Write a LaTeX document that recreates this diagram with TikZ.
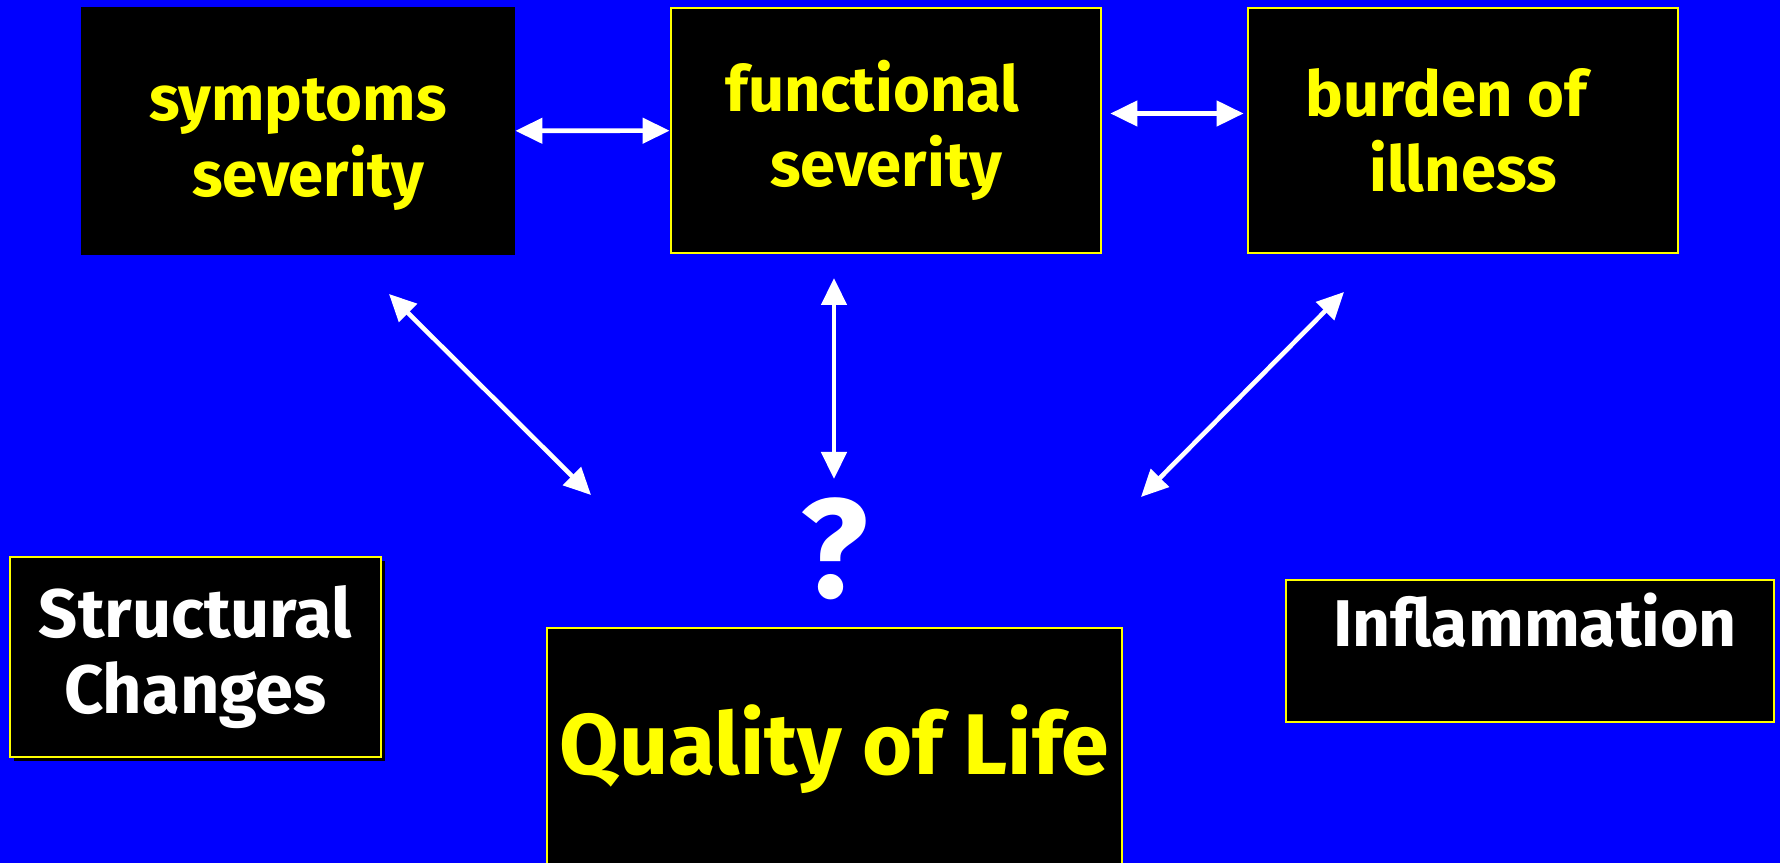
\documentclass[tikz,border=0pt]{standalone}
\usepackage{fontspec}
\setmainfont{Fira Sans}
\usetikzlibrary{arrows.meta,shadows}
\definecolor{slideblue}{RGB}{0,0,255}
\definecolor{slideyellow}{RGB}{255,255,0}
\tikzset{
  box/.style={rectangle,fill=black,draw=slideyellow,line width=0.8pt,align=center,inner sep=0pt,
    font=\bfseries\fontsize{18}{21.5}\selectfont},
  link/.style={white,line width=1.3pt,
    {Triangle[length=0.27cm,width=0.25cm]}-{Triangle[length=0.27cm,width=0.25cm]}}
}
\begin{document}
\begin{tikzpicture}
\fill[slideblue] (0,0) rectangle (17.8,8.63);
\useasboundingbox (0,0) rectangle (17.8,8.63);
\node[box,draw=black,text=slideyellow,minimum width=4.32cm,minimum height=2.46cm,text height=41pt] (symp) at (2.98,7.32) {symptoms\\\hspace*{0.2cm}severity};
\node[box,text=slideyellow,minimum width=4.30cm,minimum height=2.45cm] (func) at (8.86,7.325) {functional\hspace{0.27cm}\mbox{}\\severity};
\node[box,text=slideyellow,minimum width=4.30cm,minimum height=2.45cm] (burden) at (14.63,7.325) {burden of\hspace{0.33cm}\mbox{}\\illness};
\node[box,text=white,minimum width=3.71cm,minimum height=2.0cm,font=\bfseries\fontsize{19.5}{21.5}\selectfont,
  drop shadow={shadow xshift=0.04cm,shadow yshift=-0.04cm,fill=black,opacity=1}] (struct) at (1.955,2.06) {Structural\\Changes};
\node[box,text=slideyellow,minimum width=5.75cm,minimum height=2.42cm,font=\bfseries\fontsize{24.5}{30}\selectfont] (qol) at (8.345,1.14) {Quality of Life};
\node[box,text=white,minimum width=4.88cm,minimum height=1.42cm,font=\bfseries\fontsize{18.8}{21.5}\selectfont,
  text height=17pt,text depth=19.5pt] (infl) at (15.30,2.12) {\hspace*{0.1cm}Inflammation};
\node[text=white,font=\bfseries\fontsize{40}{40}\selectfont] (q) at (8.34,3.14) {?};
\coordinate (symp-end) at (3.89,5.69);
\coordinate (qol-left) at (5.91,3.68);
\coordinate (func-end) at (8.34,5.85);
\coordinate (qol-top) at (8.34,3.84);
\coordinate (burden-end) at (13.44,5.71);
\coordinate (qol-right) at (11.41,3.66);
\path[link]
  (symp) edge (func)
  ([yshift=1.7mm]func.east) edge[shorten <=0.08cm,shorten >=0.03cm] ([yshift=1.7mm]burden.west)
  (symp-end) edge (qol-left)
  (func-end) edge (qol-top)
  (burden-end) edge (qol-right)
;
\end{tikzpicture}
\end{document}
